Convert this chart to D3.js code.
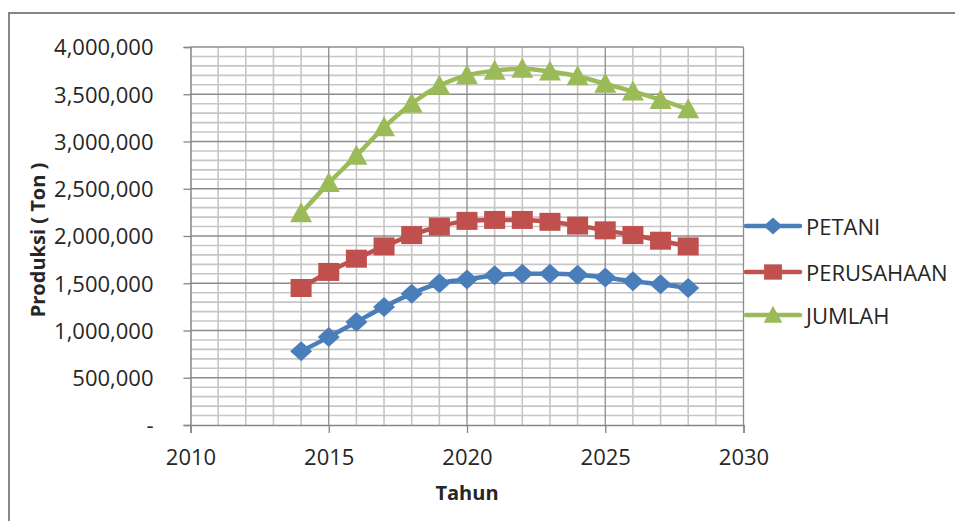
<!DOCTYPE html>
<html>
<head>
<meta charset="utf-8">
<script src="https://cdn.jsdelivr.net/npm/d3@7/dist/d3.min.js"></script>
<style>
  body { margin: 0; background: #fff; }
  text { font-family: "Open Sans", sans-serif; fill: #262626; }
</style>
</head>
<body>
<svg id="chart" width="955" height="521"></svg>
<script>
"use strict";
// data
var years = [2014, 2015, 2016, 2017, 2018, 2019, 2020, 2021, 2022, 2023, 2024, 2025, 2026, 2027, 2028];
var petani = [780000, 930000, 1090000, 1250000, 1390000, 1500000, 1540000, 1585000, 1600000, 1600000, 1590000, 1560000, 1520000, 1490000, 1450000];
var perusahaan = [1450000, 1620000, 1760000, 1890000, 2010000, 2100000, 2160000, 2170000, 2170000, 2150000, 2110000, 2060000, 2010000, 1950000, 1890000];
var jumlah = [2240000, 2560000, 2850000, 3150000, 3400000, 3590000, 3700000, 3750000, 3770000, 3740000, 3690000, 3610000, 3530000, 3440000, 3340000];
var seriesNames = ["PETANI", "PERUSAHAAN", "JUMLAH"];
var xTicks = [2010, 2015, 2020, 2025, 2030];
var yTickLabels = ["-", "500,000", "1,000,000", "1,500,000", "2,000,000", "2,500,000", "3,000,000", "3,500,000", "4,000,000"];

var colors = ["#4a7ebb", "#c0504d", "#9bbb59"];
var shapes = ["diamond", "square", "triangle"];

var svg = d3.select("#chart");

// outer chart border
svg.append("rect")
  .attr("x", 9).attr("y", 13)
  .attr("width", 980).attr("height", 540)
  .attr("fill", "none")
  .attr("stroke", "#868686")
  .attr("stroke-width", 2);

var x = d3.scaleLinear().domain([2010, 2030]).range([190.5, 743.5]);
var y = d3.scaleLinear().domain([0, 4000000]).range([425, 47]);

var grid = svg.append("g");
// minor gridlines
grid.selectAll(".vminor").data(d3.range(2011, 2030).filter(function (d) { return d % 5 != 0; }))
  .enter().append("line")
  .attr("x1", function (d) { return x(d); }).attr("x2", function (d) { return x(d); })
  .attr("y1", y(4000000)).attr("y2", y(0))
  .attr("stroke", "#c6c6c6").attr("stroke-width", 1.6);
grid.selectAll(".hminor").data(d3.range(100000, 4000000, 100000).filter(function (d) { return d % 500000 != 0; }))
  .enter().append("line")
  .attr("x1", x(2010)).attr("x2", x(2030))
  .attr("y1", function (d) { return y(d); }).attr("y2", function (d) { return y(d); })
  .attr("stroke", "#c6c6c6").attr("stroke-width", 1.6);
// major gridlines
grid.selectAll(".vmajor").data(xTicks.slice(1))
  .enter().append("line")
  .attr("x1", function (d) { return x(d); }).attr("x2", function (d) { return x(d); })
  .attr("y1", y(4000000)).attr("y2", y(0))
  .attr("stroke", "#8c8c8c").attr("stroke-width", 1.3);
grid.selectAll(".hmajor").data(d3.range(500000, 4000001, 500000))
  .enter().append("line")
  .attr("x1", x(2010)).attr("x2", x(2030))
  .attr("y1", function (d) { return y(d); }).attr("y2", function (d) { return y(d); })
  .attr("stroke", "#8c8c8c").attr("stroke-width", 1.3);

// axes
var xAxis = svg.append("g")
  .attr("transform", "translate(0," + y(0) + ")")
  .call(d3.axisBottom(x).tickValues(xTicks).tickFormat(d3.format("d")).tickSize(8).tickPadding(12));
var yAxis = svg.append("g")
  .attr("transform", "translate(" + x(2010) + ",0)")
  .call(d3.axisLeft(y).tickValues(d3.range(0, 4000001, 500000))
    .tickFormat(function (d, i) { return yTickLabels[i]; }).tickSize(7).tickPadding(30));
[xAxis, yAxis].forEach(function (a) {
  a.select(".domain").attr("stroke", "#868686").attr("stroke-width", 1.5);
  a.selectAll(".tick line").attr("stroke", "#868686").attr("stroke-width", 1.3);
  a.selectAll(".tick text").style("font-family", "'Open Sans', sans-serif").style("font-size", "22px").attr("fill", "#262626");
});
yAxis.selectAll(".tick text").attr("dy", "0.36em");
xAxis.selectAll(".tick text").attr("dy", "0.9em");

// axis titles
svg.append("text")
  .attr("x", x(2020)).attr("y", 500)
  .attr("text-anchor", "middle")
  .style("font-weight", "bold").style("font-size", "20px")
  .text("Tahun");
svg.append("text")
  .attr("transform", "translate(45,240) rotate(-90)")
  .attr("text-anchor", "middle")
  .style("font-weight", "bold").style("font-size", "20px")
  .text("Produksi ( Ton )");

function markerPath(shape) {
  if (shape == "diamond") return "M0,-10L11,0L0,10L-11,0Z";
  if (shape == "square") return "M-10.5,-9L10.5,-9L10.5,9L-10.5,9Z";
  return "M0,-11L11,9L-11,9Z";
}

var allSeries = [petani, perusahaan, jumlah];
var line = d3.line()
  .x(function (d, i) { return x(years[i]); })
  .y(function (d) { return y(d); })
  .curve(d3.curveMonotoneX);

allSeries.forEach(function (vals, k) {
  var g = svg.append("g");
  g.append("path")
    .attr("d", line(vals))
    .attr("fill", "none")
    .attr("stroke", colors[k])
    .attr("stroke-width", 4.5)
    .attr("stroke-linejoin", "round");
  g.selectAll("path.m").data(vals).enter().append("path")
    .attr("class", "m")
    .attr("transform", function (d, i) { return "translate(" + x(years[i]) + "," + y(d) + ")"; })
    .attr("d", markerPath(shapes[k]))
    .attr("fill", colors[k]);
});

// legend
var legendY = [226, 272, 315];
seriesNames.forEach(function (name, k) {
  var g = svg.append("g").attr("transform", "translate(0," + legendY[k] + ")");
  g.append("line").attr("x1", 746).attr("x2", 800).attr("y1", 0).attr("y2", 0)
    .attr("stroke", colors[k]).attr("stroke-width", 4.5).attr("stroke-linecap", "round");
  g.append("path").attr("transform", "translate(773,0) scale(0.85)")
    .attr("d", markerPath(shapes[k])).attr("fill", colors[k]);
  g.append("text").attr("x", 806).attr("y", 9)
    .style("font-size", "22px")
    .text(name);
});
</script>
</body>
</html>
